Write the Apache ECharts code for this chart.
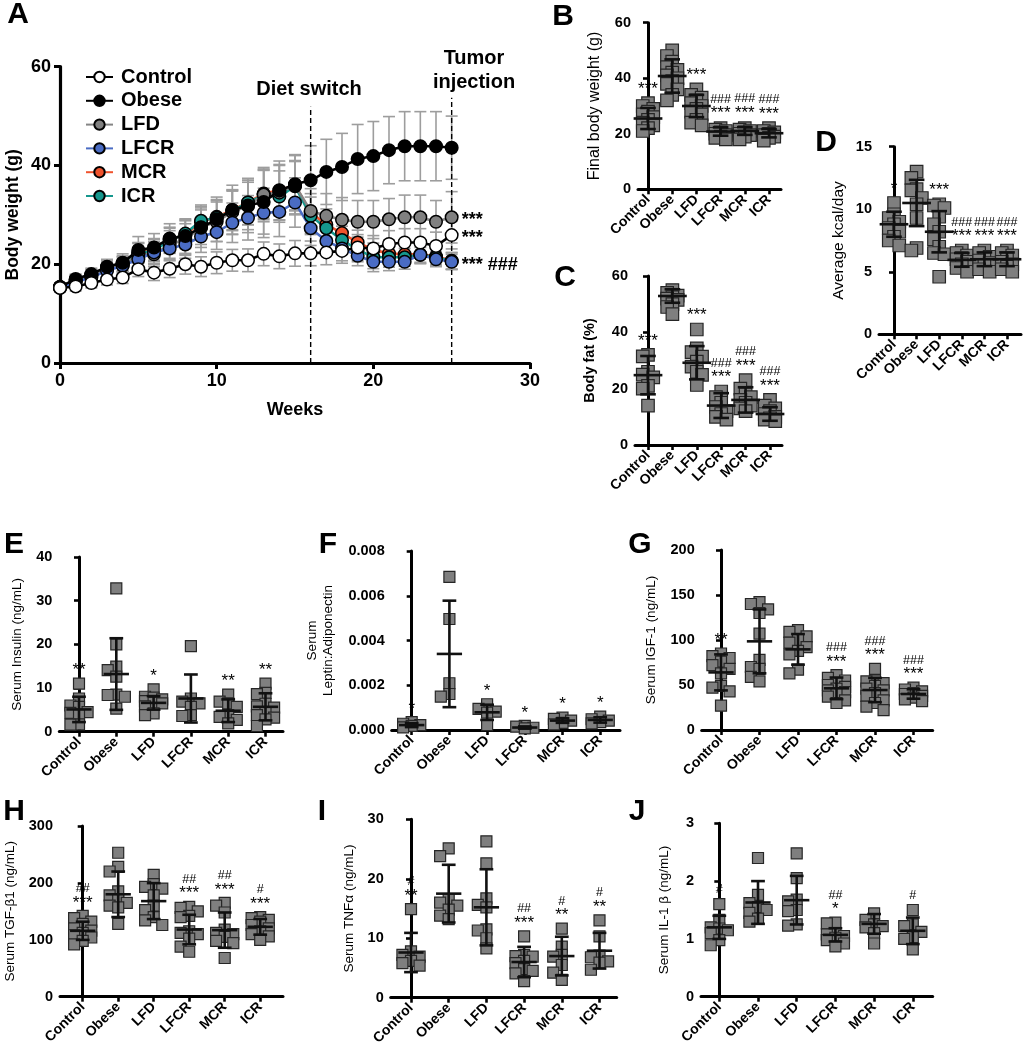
<!DOCTYPE html>
<html><head><meta charset="utf-8">
<script src="https://cdn.jsdelivr.net/npm/echarts@6/dist/echarts.min.js"></script>
<style>html,body{margin:0;padding:0;background:#fff}#c{width:1024px;height:1050px}</style>
</head><body><div id="c"></div>
<script>
// ---------------- DATA ----------------
const groups = ['Control','Obese','LFD','LFCR','MCR','ICR'];
const weeks = [0,1,2,3,4,5,6,7,8,9,10,11,12,13,14,15,16,17,18,19,20,21,22,23,24,25];
const dietSwitchWeek = 16;
const tumorWeek = 25;

const bwControl = [15.2,15.5,16.2,16.9,17.3,19.0,18.3,19.1,20.0,19.5,20.3,20.8,20.8,22.1,21.6,22.2,22.2,22.4,22.7,23.4,23.2,24.1,24.4,24.4,23.7,25.9];
const bwObese   = [15.4,17.0,18.0,19.5,20.3,22.9,23.4,25.2,25.7,27.4,29.1,31.0,31.9,32.6,34.9,36.2,37.0,38.7,39.7,41.3,41.9,43.1,43.9,43.9,43.9,43.6];
const bwLFD     = [15.3,16.6,17.6,19.0,19.8,22.0,22.0,24.0,25.0,27.5,28.6,30.6,31.8,34.1,34.5,36.0,30.8,29.8,29.0,28.6,28.6,29.1,29.5,29.5,28.6,29.5];
const bwLFCR    = [15.3,16.4,17.3,18.7,19.7,21.0,22.4,23.2,24.0,25.6,26.5,28.4,29.4,30.4,30.6,32.5,27.3,24.7,23.2,21.7,20.5,20.5,20.5,21.9,21.0,20.5];
const bwMCR     = [15.4,16.8,17.8,19.4,20.2,22.4,23.0,25.0,26.0,28.5,29.6,31.0,32.5,34.3,35.0,36.0,30.5,28.0,26.3,24.4,22.9,22.2,22.0,22.0,21.6,20.7];
const bwICR     = [15.4,16.8,17.8,19.3,20.0,22.2,22.8,24.8,26.2,28.8,29.4,30.8,32.5,34.0,33.7,35.8,29.8,27.3,24.9,23.0,21.4,21.4,21.4,21.9,21.4,20.6];

const bwControlSD = [0.8,0.9,1.0,1.1,1.2,1.5,1.6,1.8,2.0,2.0,2.2,2.2,2.3,2.4,2.5,2.6,2.5,2.5,2.5,2.6,2.6,2.7,2.8,2.8,2.8,2.8];
const bwObeseSD   = [0.8,1.0,1.2,1.5,1.8,2.7,2.8,3.0,3.5,4.0,4.5,5.0,5.5,6.5,6.0,6.0,7.0,6.6,6.8,7.0,7.0,6.8,7.0,7.0,7.0,6.4];
const bwLFDSD     = [0.8,1.0,1.2,1.4,1.7,2.3,2.5,2.8,3.2,3.5,4.0,4.5,4.8,5.5,5.5,6.0,4.5,4.5,4.5,4.3,4.3,4.2,4.5,4.5,4.3,5.2];
const bwLFCRSD    = [0.8,1.0,1.1,1.3,1.5,2.0,2.2,2.5,2.8,3.2,3.5,4.0,4.5,5.0,5.0,5.0,3.5,2.8,2.5,2.0,2.0,1.8,1.5,1.5,1.5,1.5];
const bwMCRSD     = [0.8,1.0,1.1,1.3,1.5,2.0,2.2,2.5,2.8,3.2,3.5,4.0,4.5,5.0,5.2,5.0,3.8,3.2,2.8,2.5,2.3,2.0,1.8,1.8,1.7,1.7];
const bwICRSD     = [0.8,1.0,1.1,1.3,1.5,2.0,2.2,2.5,2.8,3.2,3.5,4.0,4.5,5.0,5.2,5.0,3.8,3.2,2.8,2.5,2.3,2.0,1.8,1.8,1.7,1.7];
const bwEndMarks  = ['***','','***','*** ###','',''];

const finalBodyWeight = [
  [31,30,29,28,27,26,25,24,23,22,21],
  [50,48,46,44,43,42,41,40,39,38,36,34,32],
  [36,34,33,32,31,30,29,28,27,25,24,23],
  [22,21.5,21,20.5,20,19.5,19,18.5,18],
  [22,21.5,21,20.5,20,19.5,19,18],
  [22,21,20.5,20,19.5,19,18.5,17.5]];
const finalBodyWeightMean = [25.5,40.8,30,20.8,21,20.2];
const finalBodyWeightSD = [3.8,6,4,1.5,1.4,1.5];
const finalBodyWeightMarks = ['***','','***','###\n***','###\n***','###\n***'];

const bodyFat = [
  [32,31.5,26,25,24,21,20,14],
  [55,54,53,52.5,52,51.5,50,49,46.5],
  [41,34.3,33,31.4,29.6,27.8,26,24.9,21.3],
  [19,17,15,13.5,12,11,10,9],
  [23,20,18,17,16,15,14,13,12],
  [16,14,13,12,11,10,9.5,9,8.5]];
const bodyFatMean = [24.8,52.9,29.2,14,16,11];
const bodyFatSD = [6.8,2.4,5.9,4.4,4.5,2.4];
const bodyFatMarks = ['***','','***','###\n***','###\n***','###\n***'];

const kcalPerDay = [
  [10.5,9.6,9.3,9,8.8,8.5,8.2,7.8,7.5,7.1],
  [13,12.5,11.6,11.5,10.9,10.4,9.3,6.9,6.7],
  [10.4,10.3,10.1,9.4,8.8,8.2,7.6,7,6.5,6.4,4.6],
  [6.7,6.5,6.3,6.1,6.0,5.8,5.6,5.3,5.0],
  [6.7,6.5,6.2,6.0,5.9,5.7,5.5,5.2,5.0],
  [6.7,6.5,6.3,6.0,5.8,5.6,5.4,5.2,5.0]];
const kcalPerDayMean = [8.8,10.5,8.2,5.95,6.0,6.0];
const kcalPerDaySD = [1.0,1.85,1.65,0.55,0.55,0.55];
const kcalPerDayMarks = ['*','','***','###\n***','###\n***','###\n***'];

const insulin = [
  [11,7.6,6,5.7,4.5,4.3,3.8,1.7,1.6],
  [32.8,20,14.9,14.1,12.6,8.5,8.4,8,5.3],
  [9.7,8,7.8,7.4,7,6.6,6.5,5.8,4.2,3.8],
  [19.6,7.6,6.9,6.5,5.7,3.8,3.6],
  [8.5,6.9,6.5,5.7,3.8,3.4,2.7,1.9],
  [11,8.9,8.6,6.4,5.8,5.5,4.4,3.8,3.2,2.8,1.3]];
const insulinMean = [5.1,13.2,6.6,7.6,4.8,5.7];
const insulinSD = [2.9,8.2,1.55,5.5,2.6,3.1];
const insulinMarks = ['**','','*','','**','**'];

const leptinAdipo = [
  [0.00035,0.00028,0.00022,0.00018,0.00012],
  [0.00684,0.00496,0.00209,0.00161,0.00149],
  [0.00115,0.00094,0.00082,0.00078,0.00022],
  [0.00018,0.00015,0.0001,0.00007],
  [0.00055,0.0005,0.00042,0.00032,0.00025],
  [0.0006,0.00048,0.00042,0.00035,0.0003]];
const leptinAdipoMean = [0.00022,0.0034,0.00079,0.00011,0.00042,0.00045];
const leptinAdipoSD = [0.00009,0.00238,0.00034,0.00005,0.0001,0.00012];
const leptinAdipoMarks = ['*','','*','*','*','*'];

const igf1 = [
  [85,82,80,76,72,68,63,49,47,43,27],
  [142,140,134,130,107,78,70,68,59,54],
  [111,109,104,100,97,92,88,84,67,63],
  [61,58,55,52,50,48,46,44,42,40,37,33,30],
  [68,55,54,52,49,46,44,41,38,33,30,26,22],
  [47,45,43,41,40,38,36,34,32]];
const igf1Mean = [64,98.5,89.6,46.3,44.4,40];
const igf1SD = [20,35.5,17,12,13.5,5.2];
const igf1Marks = ['**','','','###\n***','###\n***','###\n***'];

const tgfb1 = [
  [142,138,132,128,120,116,112,108,104,98,92],
  [253,228,220,185,178,170,165,160,157,128],
  [214,198,193,190,178,160,152,140,134,126],
  [158,156,150,142,140,115,112,110,102,88,79],
  [165,160,148,118,112,110,105,98,94,68],
  [140,138,135,132,126,120,115,110,106,100]];
const tgfb1Mean = [115.8,180,168,118,117,122.8];
const tgfb1SD = [16,40,31.6,26,31,13.8];
const tgfb1Marks = ['##\n***','','','##\n***','##\n***','#\n***'];

const tnfa = [
  [14.9,7.8,7.2,6.9,6.2,5.8,5.4],
  [25.1,23.8,16.6,16,15.5,14.8,13.8,13.2],
  [26.3,22.6,16.7,15.6,15.2,11.5,11.3,10,8.3],
  [10.3,7.2,7,6.9,6.2,5.8,4.8,4.5,4.1,2.8],
  [11.6,8.6,7.2,6.9,5.5,4.2,3],
  [13,10.3,7.1,6.8,6.1,5.9,4.7]];
const tnfaMean = [7.6,17.5,15.2,6.0,7.0,7.9];
const tnfaSD = [3.3,4.85,6.4,2.55,3.25,3.0];
const tnfaMarks = ['#\n**','','','##\n***','#\n**','#\n**'];

const il1b = [
  [1.6,1.33,1.2,1.18,1.15,1.1,0.98,0.89],
  [2.4,1.76,1.62,1.55,1.5,1.45,1.35,1.3],
  [2.48,2.05,1.68,1.65,1.5,1.48,1.25,1.23],
  [1.28,1.27,1.1,1.08,1.05,1.02,0.98,0.92,0.87],
  [1.44,1.33,1.25,1.22,1.2,1.1,0.92],
  [1.5,1.25,1.22,1.12,1.03,1.0,0.82]];
const il1bMean = [1.2,1.63,1.67,1.07,1.26,1.14];
const il1bSD = [0.2,0.37,0.42,0.115,0.17,0.23];
const il1bMarks = ['#','','','##\n*','','#'];

// ---------------- LAYOUT / STYLE ----------------
const FF = '"Liberation Sans", Arial, Helvetica, sans-serif';
const BLACK = '#000';

const lineStyles = [
  {fill:'#ffffff', line:'#000000'},
  {fill:'#000000', line:'#000000'},
  {fill:'#808080', line:'#858585'},
  {fill:'#4a6cc4', line:'#4a6cc4'},
  {fill:'#f0532d', line:'#f0532d'},
  {fill:'#15978d', line:'#15978d'}];
const bwSeries = [bwControl,bwObese,bwLFD,bwLFCR,bwMCR,bwICR];
const bwSDs = [bwControlSD,bwObeseSD,bwLFDSD,bwLFCRSD,bwMCRSD,bwICRSD];
const drawOrder = [4,5,2,3,1,0];

const dotPanels = [
 {vals:finalBodyWeight, mean:finalBodyWeightMean, sd:finalBodyWeightSD, marks:finalBodyWeightMarks, yMax:60, yInt:20, name:'Final body weight (g)', nb:'normal', ns:16, ng:35, ax:638, ar:781, first:648, sp:24.2, top:22.7, bottom:189.3, size:12.5, spread:0.42, letter:'B', lx:563, ly:17},
 {vals:bodyFat, mean:bodyFatMean, sd:bodyFatSD, marks:bodyFatMarks, yMax:60, yInt:20, name:'Body fat (%)', nb:'bold', ns:14.5, ng:37, ax:635, ar:782, first:648, sp:24.4, top:276, bottom:445, size:12.5, spread:0.42, letter:'C', lx:565, ly:278},
 {vals:kcalPerDay, mean:kcalPerDayMean, sd:kcalPerDaySD, marks:kcalPerDayMarks, yMax:15, yInt:5, name:'Average kcal/day', nb:'normal', ns:15.5, ng:32, ax:879, ar:1021, first:894, sp:22.6, top:146.7, bottom:334.3, size:12.5, spread:0.42, letter:'D', lx:826, ly:143},
 {vals:insulin, mean:insulinMean, sd:insulinSD, marks:insulinMarks, yMax:40, yInt:10, name:'Serum Insulin (ng/mL)', nb:'normal', ns:13.5, ng:34, ax:59.3, ar:283, first:79, sp:37.3, top:557, bottom:731.7, size:11, spread:0.78, letter:'E', lx:14, ly:545},
 {vals:leptinAdipo, mean:leptinAdipoMean, sd:leptinAdipoSD, marks:leptinAdipoMarks, yMax:0.008, yInt:0.002, dec:3, name:'Serum\nLeptin:Adiponectin', nb:'normal', ns:13.5, ng:55, ax:391.7, ar:620, first:411.7, sp:37.7, top:551, bottom:730, size:11, spread:0.78, letter:'F', lx:328, ly:545},
 {vals:igf1, mean:igf1Mean, sd:igf1SD, marks:igf1Marks, yMax:200, yInt:50, name:'Serum IGF-1 (ng/mL)', nb:'normal', ns:13.5, ng:42, ax:701.7, ar:932.7, first:721, sp:38.5, top:550, bottom:730, size:11, spread:0.78, letter:'G', lx:640, ly:545},
 {vals:tgfb1, mean:tgfb1Mean, sd:tgfb1SD, marks:tgfb1Marks, yMax:300, yInt:100, name:'Serum TGF-β1 (ng/mL)', nb:'normal', ns:13.5, ng:42, ax:60, ar:283, first:82.7, sp:35.5, top:826, bottom:996.7, size:11, spread:0.78, letter:'H', lx:14, ly:812},
 {vals:tnfa, mean:tnfaMean, sd:tnfaSD, marks:tnfaMarks, yMax:30, yInt:10, name:'Serum TNFα (ng/mL)', nb:'normal', ns:13.5, ng:33, ax:390.7, ar:616.7, first:411, sp:37.7, top:819.3, bottom:997.7, size:11, spread:0.78, letter:'I', lx:322, ly:812},
 {vals:il1b, mean:il1bMean, sd:il1bSD, marks:il1bMarks, yMax:3, yInt:1, name:'Serum IL-1 β (ng/mL)', nb:'normal', ns:13.5, ng:29, ax:701, ar:932.7, first:719.3, sp:38.7, top:823.3, bottom:996.7, size:11, spread:0.78, letter:'J', lx:637, ly:812}
];

// simple beeswarm slot assignment (layout only)
function swarmSlots(vals, pxPerUnit, size) {
  const order = vals.map((v,i)=>i).sort((a,b)=>vals[b]-vals[a]);
  const placed = [];
  const res = new Array(vals.length).fill(0);
  const cands = [0,-1,1];
  for (const i of order) {
    const y = vals[i]*pxPerUnit;
    let best = 0, bestD = -1;
    for (const s of cands) {
      let d = Infinity;
      for (const p of placed) if (p.s === s) d = Math.min(d, Math.abs(p.y - y));
      if (d >= size*0.75) { best = s; bestD = d; break; }
      if (d > bestD) { bestD = d; best = s; }
    }
    res[i] = best;
    placed.push({y, s:best});
  }
  return res;
}

const axisLineStyle = {color:BLACK, width:3};
const option = {
  animation:false,
  backgroundColor:'#fff',
  textStyle:{fontFamily:FF, color:BLACK},
  grid:[], xAxis:[], yAxis:[], series:[], graphic:[]
};

// ---------- Panel A ----------
option.grid.push({left:60, top:66.7, width:470, height:296.3});
option.xAxis.push({type:'value', gridIndex:0, min:0, max:30, interval:10,
  axisLine:{lineStyle:{color:BLACK,width:3.2}}, axisTick:{length:6, lineStyle:{color:BLACK,width:3}},
  axisLabel:{fontSize:18, fontWeight:'bold', color:BLACK, margin:9, fontFamily:FF}, splitLine:{show:false},
  name:'Weeks', nameLocation:'middle', nameGap:38, nameTextStyle:{fontSize:18, fontWeight:'bold', color:BLACK, fontFamily:FF}});
option.yAxis.push({type:'value', gridIndex:0, min:0, max:60, interval:20,
  axisLine:{show:true, lineStyle:{color:BLACK,width:3.2}}, axisTick:{show:true, length:6, lineStyle:{color:BLACK,width:3}},
  axisLabel:{fontSize:18, fontWeight:'bold', color:BLACK, margin:9, fontFamily:FF}, splitLine:{show:false},
  name:'Body weight (g)', nameLocation:'middle', nameGap:38, nameRotate:90,
  nameTextStyle:{fontSize:17.5, fontWeight:'bold', color:BLACK, fontFamily:FF}});

// error bars for A
const errData = [];
bwSeries.forEach((s,gi)=>s.forEach((v,i)=>errData.push([weeks[i], v, bwSDs[gi][i]])));
option.series.push({type:'custom', xAxisIndex:0, yAxisIndex:0, z:1, silent:true, clip:false,
  data:errData,
  renderItem:(p,api)=>{
    const x=api.value(0), m=api.value(1), d=api.value(2);
    const t=api.coord([x,m+d]), b=api.coord([x,m-d]);
    const cw=6, st={stroke:'#9d9d9d', lineWidth:1.6};
    return {type:'group', children:[
      {type:'line', shape:{x1:t[0],y1:t[1],x2:b[0],y2:b[1]}, style:st},
      {type:'line', shape:{x1:t[0]-cw,y1:t[1],x2:t[0]+cw,y2:t[1]}, style:st},
      {type:'line', shape:{x1:b[0]-cw,y1:b[1],x2:b[0]+cw,y2:b[1]}, style:st}]};
  }});

drawOrder.forEach(gi=>{
  const s = bwSeries[gi];
  option.series.push({type:'line', name:groups[gi], xAxisIndex:0, yAxisIndex:0, z:3,
    symbol:'circle', symbolSize:12.5, showSymbol:true,
    lineStyle:{color:lineStyles[gi].line, width:2.6},
    itemStyle:{color:lineStyles[gi].fill, borderColor:'#000', borderWidth:1.5},
    emphasis:{disabled:true},
    data:s.map((v,i)=>{
      const item = {value:[weeks[i], v]};
      if (i===s.length-1 && bwEndMarks[gi]) item.label = {show:true, formatter:bwEndMarks[gi], position:'right', distance:3,
        fontSize:18, fontWeight:'bold', color:BLACK, fontFamily:FF, offset:[0,3]};
      return item;
    })});
});
// event markers
[[dietSwitchWeek,51.9],[tumorWeek,53.7]].forEach(([w,top])=>{
  option.series.push({type:'line', xAxisIndex:0, yAxisIndex:0, z:2, symbol:'none', silent:true,
    lineStyle:{color:'#000', width:1.4, type:[5,3]}, data:[[w,0],[w,top]]});
});

option.legend = {show:true, orient:'vertical', left:80, top:62, itemWidth:27, itemHeight:13, itemGap:3.8,
  selectedMode:false, data:groups,
  textStyle:{fontSize:20, fontWeight:'bold', color:BLACK, fontFamily:FF, lineHeight:20, padding:[0,0,0,3]}};

option.graphic.push(
  {type:'text', x:18, y:15, style:{text:'A', font:'bold 30px '+FF, fill:BLACK, align:'center', verticalAlign:'middle'}},
  {type:'text', x:309, y:89, style:{text:'Diet switch', font:'bold 20px '+FF, fill:BLACK, align:'center', verticalAlign:'middle'}},
  {type:'text', x:474, y:58, style:{text:'Tumor', font:'bold 20px '+FF, fill:BLACK, align:'center', verticalAlign:'middle'}},
  {type:'text', x:474, y:82, style:{text:'injection', font:'bold 20px '+FF, fill:BLACK, align:'center', verticalAlign:'middle'}}
);

// ---------- Dot panels ----------
dotPanels.forEach((P, k)=>{
  const gi = k+1;
  const h = P.bottom - P.top;
  const last = P.first + 5*P.sp;
  const xmin = -(P.first - P.ax)/P.sp;
  const xmax = 5 + (P.ar - last)/P.sp;
  option.grid.push({left:P.ax, top:P.top, width:P.ar-P.ax, height:h});
  option.xAxis.push({type:'value', gridIndex:gi, min:xmin, max:xmax,
    axisLine:{lineStyle:axisLineStyle}, splitLine:{show:false},
    axisTick:{show:true, customValues:[0,1,2,3,4,5], length:5, lineStyle:{color:BLACK,width:2.6}},
    axisLabel:{show:true, customValues:[0,1,2,3,4,5], formatter:(v)=>groups[Math.round(v)], rotate:45,
      fontSize:14, fontWeight:'bold', color:BLACK, margin:8, fontFamily:FF}});
  option.yAxis.push({type:'value', gridIndex:gi, min:0, max:P.yMax, interval:P.yInt,
    axisLine:{show:true, lineStyle:axisLineStyle}, splitLine:{show:false},
    axisTick:{show:true, length:5, lineStyle:{color:BLACK,width:2.6}},
    axisLabel:{fontSize:14.5, fontWeight:'bold', color:BLACK, margin:7, fontFamily:FF,
      formatter:(v)=> P.dec ? v.toFixed(P.dec) : String(v)},
    name:P.name, nameLocation:'middle', nameGap:P.ng, nameRotate:90,
    nameTextStyle:{fontSize:P.ns, fontWeight:P.nb, color:BLACK, fontFamily:FF, lineHeight:16}});

  const pxu = h / P.yMax;
  const pts = [];
  P.vals.forEach((arr, g)=>{
    const slots = swarmSlots(arr, pxu, P.size);
    arr.forEach((v,i)=>pts.push([g, v, slots[i]]));
  });
  const slotPx = P.size*P.spread;
  option.series.push({type:'custom', xAxisIndex:gi, yAxisIndex:gi, z:2, silent:true, clip:false, data:pts,
    renderItem:(p,api)=>{
      const c = api.coord([api.value(0), api.value(1)]);
      const s = P.size;
      return {type:'rect', shape:{x:c[0]+api.value(2)*slotPx-s/2, y:c[1]-s/2, width:s, height:s},
        style:{fill:'#7f7f7f', stroke:'#262626', lineWidth:1.2}};
    }});
  const msd = P.mean.map((m,g)=>[g, m, P.sd[g]]);
  const capW = P.size*1.25, meanW = P.size*2.3;
  option.series.push({type:'custom', xAxisIndex:gi, yAxisIndex:gi, z:3, silent:true, clip:false, data:msd,
    renderItem:(p,api)=>{
      const x=api.value(0), m=api.value(1), d=api.value(2);
      const c=api.coord([x,m]), t=api.coord([x,m+d]), b=api.coord([x,m-d]);
      const st={stroke:'#111', lineWidth:2.6};
      return {type:'group', children:[
        {type:'line', shape:{x1:c[0],y1:t[1],x2:c[0],y2:b[1]}, style:st},
        {type:'line', shape:{x1:c[0]-capW/2,y1:t[1],x2:c[0]+capW/2,y2:t[1]}, style:st},
        {type:'line', shape:{x1:c[0]-capW/2,y1:b[1],x2:c[0]+capW/2,y2:b[1]}, style:st},
        {type:'line', shape:{x1:c[0]-meanW/2,y1:c[1],x2:c[0]+meanW/2,y2:c[1]}, style:st}]};
    }});
  const tops = P.vals.map((arr,g)=>[g, Math.max(Math.max(...arr), P.mean[g]+P.sd[g])]);
  option.series.push({type:'custom', xAxisIndex:gi, yAxisIndex:gi, z:4, silent:true, clip:false, data:tops,
    renderItem:(p,api)=>{
      const g = api.value(0);
      const txt = P.marks[g];
      if (!txt) return {type:'group', children:[]};
      const c = api.coord([g, api.value(1)]);
      const lines = txt.split('\n');
      const baseY = c[1] - P.size/2 - 9;
      const children = lines.map((ln, j)=>{
        const isStar = ln.indexOf('*')>=0;
        const yy = baseY - (lines.length-1-j)*13 + (isStar?1.5:0);
        return {type:'text', x:c[0], y:yy, style:{text:ln, fontSize:isStar?17:12.5, fontFamily:FF, fill:BLACK,
          align:'center', verticalAlign:'middle'}};
      });
      return {type:'group', children};
    }});
  option.graphic.push({type:'text', x:P.lx, y:P.ly,
    style:{text:P.letter, font:'bold 30px '+FF, fill:BLACK, align:'center', verticalAlign:'middle'}});
});

const chart = echarts.init(document.getElementById('c'), null, {renderer:'canvas', width:1024, height:1050});
chart.setOption(option);
</script></body></html>
